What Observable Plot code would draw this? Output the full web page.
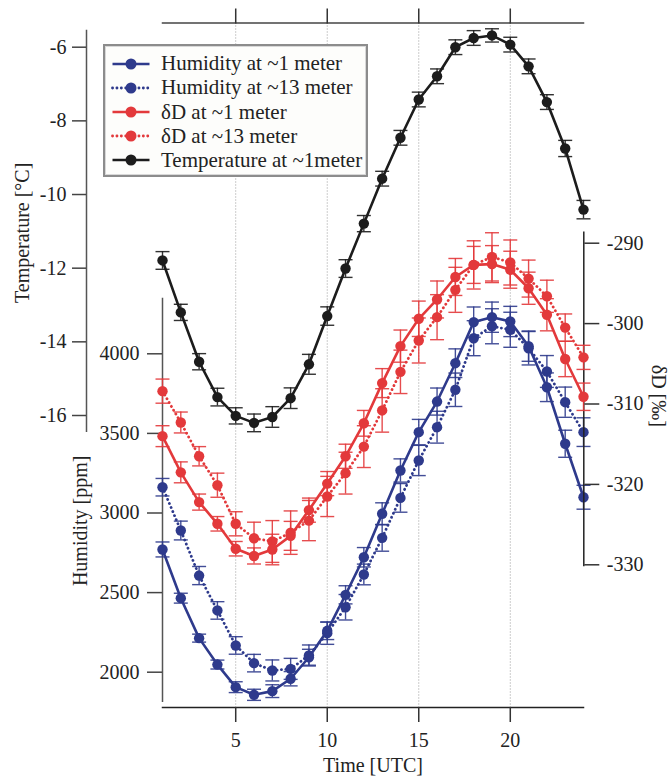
<!DOCTYPE html>
<html><head><meta charset="utf-8">
<script src="https://cdn.jsdelivr.net/npm/d3@7"></script>
<script src="https://cdn.jsdelivr.net/npm/@observablehq/plot@0.6"></script>
<style>
body{margin:0;background:#fff;}
#chart{position:relative;width:669px;height:776px;overflow:hidden;}
#chart svg.layer{position:absolute;left:0;top:0;overflow:visible;}
#chart svg.layer text{font-family:"Liberation Serif","DejaVu Serif",serif;}
#legend{position:absolute;left:103px;top:44px;width:261px;height:129px;border:2px solid #8c8c8c;background:#fdfdfb;box-shadow:inset 0 0 0 1px #d8d8d8;font-family:"Liberation Serif","DejaVu Serif",serif;font-size:21px;color:#222;}
#legend .row{position:absolute;left:0;height:24px;display:flex;align-items:center;white-space:nowrap;}
#legend svg{margin-left:6px;margin-right:10px;}
</style></head><body><div id="chart"></div>
<script>
// ---- data ----
const hours = [1,2,3,4,5,6,7,8,9,10,11,12,13,14,15,16,17,18,19,20,21,22,23,24];
const temperature = [-11.79,-13.20,-14.54,-15.50,-16.01,-16.20,-16.04,-15.53,-14.61,-13.30,-12.01,-10.79,-9.57,-8.46,-7.42,-6.79,-6.00,-5.75,-5.68,-5.93,-6.52,-7.49,-8.75,-10.41];
const temperatureErr = [0.24,0.22,0.22,0.24,0.22,0.24,0.28,0.28,0.27,0.25,0.24,0.22,0.2,0.2,0.2,0.2,0.2,0.2,0.18,0.2,0.2,0.2,0.22,0.25];
const humidity1m = [2771,2465,2214,2048,1906,1858,1881,1959,2094,2260,2486,2722,2995,3267,3508,3700,3941,4199,4230,4203,4048,3790,3435,3099];
const humidity1mErr = [47,31,25,28,34,35,40,45,50,55,57,61,69,73,80,85,90,95,95,95,95,90,85,75];
const humidity13m = [3162,2890,2607,2388,2168,2057,2011,2021,2105,2245,2408,2614,2844,3095,3330,3539,3774,4098,4173,4151,4035,3889,3696,3508];
const humidity13mErr = [55,59,57,55,55,55,66,66,66,70,80,65,84,90,95,100,105,110,110,110,105,100,95,90];
const deltaD1m = [-314.0,-318.5,-322.2,-324.9,-328.0,-328.9,-328.1,-326.4,-323.2,-319.9,-316.5,-312.4,-307.4,-302.8,-299.4,-297.0,-294.2,-292.7,-292.6,-293.3,-295.6,-298.9,-304.4,-309.1];
const deltaD1mErr = [1.3,1.3,1.0,0.9,0.9,1.0,1.9,1.8,1.5,1.5,1.5,1.6,1.8,2.0,2.2,2.3,2.3,2.3,2.3,2.3,2.0,2.0,2.2,1.7];
const deltaD13m = [-308.4,-312.3,-316.5,-320.1,-324.9,-326.7,-327.1,-326.0,-324.5,-321.5,-318.6,-315.3,-310.8,-306.0,-302.1,-299.2,-295.8,-292.7,-291.7,-292.4,-294.4,-296.6,-300.5,-304.2];
const deltaD13mErr = [1.5,1.3,1.2,1.5,1.5,2.0,2.6,2.7,2.5,2.5,2.6,2.6,2.7,2.7,2.8,2.8,2.8,3.0,3.0,2.8,2.3,2.0,1.7,1.5];
const xTicks = [5,10,15,20];
const temperatureTicks = [-16,-14,-12,-10,-8,-6];
const humidityTicks = [2000,2500,3000,3500,4000];
const deltaDTicks = [-330,-320,-310,-300,-290];
const legendLabels = ["Humidity at ~1 meter","Humidity at ~13 meter","δD at ~1 meter","δD at ~13 meter","Temperature at ~1meter"];

// ---- styling / layout ----
const W = 669, H = 776;
const BLUE = "#2e3a8c", RED = "#e3393b", BLACK = "#1c1c1c";
const FONT = "Liberation Serif, DejaVu Serif, serif";
const DOTTED = "0.1,4.3";
const xScale = {domain: [1, 24], range: [162, 583], axis: null};
const baseStyle = {fontFamily: FONT, fontSize: "20px", background: "transparent", color: "#222"};
const capSymbol = {draw(ctx) { ctx.moveTo(-7, 0); ctx.lineTo(7, 0); }};
const fmt = d => String(d);

function seriesMarks(vals, errs, color, dashed) {
  const rows = hours.map((h, i) => ({h, v: vals[i], lo: vals[i] - errs[i], hi: vals[i] + errs[i]}));
  return [
    Plot.ruleX(rows, {x: "h", y1: "lo", y2: "hi", stroke: color, strokeWidth: 1.4, strokeOpacity: 0.9}),
    Plot.dot(rows, {x: "h", y: "lo", symbol: capSymbol, stroke: color, strokeWidth: 1.4, strokeOpacity: 0.9}),
    Plot.dot(rows, {x: "h", y: "hi", symbol: capSymbol, stroke: color, strokeWidth: 1.4, strokeOpacity: 0.9}),
    dashed
      ? Plot.line(rows, {x: "h", y: "v", stroke: color, strokeWidth: 2.8, strokeDasharray: DOTTED, strokeLinecap: "round"})
      : Plot.line(rows, {x: "h", y: "v", stroke: color, strokeWidth: 2.6}),
    Plot.dot(rows, {x: "h", y: "v", fill: color, r: 5.2})
  ];
}

// grid + x axes
const gridPlot = Plot.plot({
  width: W, height: H, marginLeft: 162, marginRight: W - 583, marginTop: 22.5, marginBottom: H - 707,
  x: {domain: [1, 24], axis: null},
  style: baseStyle,
  marks: [
    Plot.gridX(xTicks, {stroke: "#9a9a9a", strokeOpacity: 1, strokeDasharray: "1,2"}),
    Plot.frame({anchor: "top", stroke: "#444", strokeWidth: 1.5}),
    Plot.frame({anchor: "bottom", stroke: "#222", strokeWidth: 1.5}),
    Plot.axisX({anchor: "bottom", ticks: xTicks, tickSize: 15, tickPadding: 10, tickFormat: fmt, label: null, stroke: "#333", strokeWidth: 1.5, fill: "#222"}),
    Plot.axisX({anchor: "top", ticks: xTicks, tickSize: 15, tickFormat: () => "", label: null, stroke: "#333", strokeWidth: 1.5}),
    Plot.text(["Time [UTC]"], {text: d => d, frameAnchor: "bottom", dy: 58, textAnchor: "middle", lineAnchor: "middle", fontSize: 20, fill: "#222"})
  ]
});

// humidity layer
const humPlot = Plot.plot({
  width: W, height: H, marginLeft: 162, marginRight: 86, marginTop: 298, marginBottom: H - 700.7,
  x: xScale,
  y: {domain: [2000, 4000], range: [671.7, 353.3], axis: null},
  style: baseStyle,
  marks: [
    Plot.frame({anchor: "left", stroke: "#555", strokeWidth: 1.5}),
    Plot.axisY({anchor: "left", ticks: humidityTicks, tickSize: 15, tickPadding: 8, tickFormat: fmt, label: null, stroke: "#444", strokeWidth: 1.5, fill: "#222"}),
    Plot.text(["Humidity [ppm]"], {text: d => d, frameAnchor: "left", dx: -82, dy: 21, rotate: -90, textAnchor: "middle", lineAnchor: "middle", fontSize: 20, fill: "#222"}),
    ...seriesMarks(humidity13m, humidity13mErr, BLUE, true),
    ...seriesMarks(humidity1m, humidity1mErr, BLUE, false)
  ]
});

// deltaD layer
const ddPlot = Plot.plot({
  width: W, height: H, marginLeft: 162, marginRight: W - 583.3, marginTop: 231.7, marginBottom: H - 565,
  x: xScale,
  y: {domain: [-330, -290], range: [564.3, 242.7], axis: null},
  style: baseStyle,
  marks: [
    Plot.frame({anchor: "right", stroke: "#222", strokeWidth: 1.5}),
    Plot.axisY({anchor: "right", ticks: deltaDTicks, tickSize: 15, tickPadding: 8, tickFormat: fmt, label: null, stroke: "#333", strokeWidth: 1.5, fill: "#222"}),
    Plot.text(["δD [‰]"], {text: d => d, frameAnchor: "right", dx: 75, dy: -3, rotate: 90, textAnchor: "middle", lineAnchor: "middle", fontSize: 20, fill: "#222"}),
    ...seriesMarks(deltaD13m, deltaD13mErr, RED, true),
    ...seriesMarks(deltaD1m, deltaD1mErr, RED, false)
  ]
});

// temperature layer
const tempPlot = Plot.plot({
  width: W, height: H, marginLeft: 86, marginRight: 86, marginTop: 30, marginBottom: H - 430.7,
  x: xScale,
  y: {domain: [-16, -6], range: [415, 46.7], axis: null},
  style: baseStyle,
  marks: [
    Plot.frame({anchor: "left", stroke: "#555", strokeWidth: 1.5}),
    Plot.axisY({anchor: "left", ticks: temperatureTicks, tickSize: 14, tickPadding: 6, tickFormat: fmt, label: null, stroke: "#444", strokeWidth: 1.5, fill: "#222"}),
    Plot.text(["Temperature [°C]"], {text: d => d, frameAnchor: "left", dx: -64, dy: 2, rotate: -90, textAnchor: "middle", lineAnchor: "middle", fontSize: 20, fill: "#222"}),
    ...seriesMarks(temperature, temperatureErr, BLACK, false)
  ]
});

const chart = document.getElementById("chart");
for (const p of [gridPlot, humPlot, ddPlot, tempPlot]) {
  p.classList.add("layer");
  chart.appendChild(p);
}

// legend
const legendStyles = [[BLUE, false], [BLUE, true], [RED, false], [RED, true], [BLACK, false]];
const legend = document.createElement("div");
legend.id = "legend";
legendLabels.forEach((lab, i) => {
  const [c, dashed] = legendStyles[i];
  const row = document.createElement("div");
  row.className = "row";
  row.style.top = (5.7 + 24.15 * i) + "px";
  const lineAttrs = dashed
    ? `stroke-width="2.8" stroke-dasharray="${DOTTED}" stroke-linecap="round"`
    : `stroke-width="2.6"`;
  row.innerHTML = `<svg width="40" height="20"><line x1="1.5" x2="38.5" y1="10" y2="10" stroke="${c}" ${lineAttrs}/><circle cx="20" cy="10" r="5.5" fill="${c}"/></svg><span>${lab}</span>`;
  legend.appendChild(row);
});
chart.appendChild(legend);
</script>
</body></html>
